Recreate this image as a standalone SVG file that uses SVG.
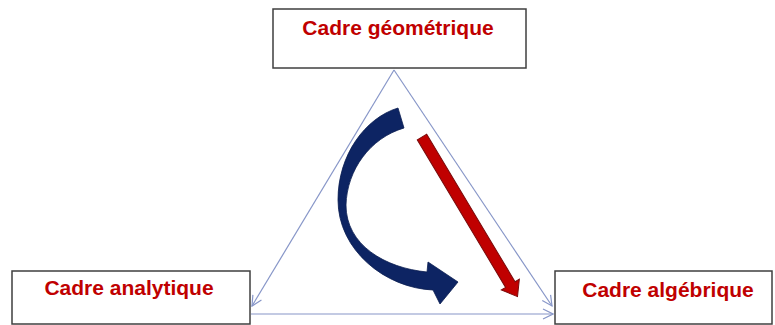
<svg xmlns="http://www.w3.org/2000/svg" width="775" height="325" viewBox="0 0 775 325">
<style>
.box{fill:#fff;stroke:#3f3f3f;stroke-width:1.5}
.lbl{font-family:"Liberation Sans",Arial,sans-serif;font-weight:bold;font-size:21px;fill:#c00000;text-anchor:middle}
.edge{fill:none;stroke:#8796c8;stroke-width:1.2}
</style>
<defs>
<marker id="open" viewBox="0 0 12 12" refX="11" refY="6" markerWidth="12" markerHeight="12" markerUnits="userSpaceOnUse" orient="auto">
<path d="M1,1 L11,6 L1,11" fill="none" stroke="#8796c8" stroke-width="1.2"/>
</marker>
</defs>
<rect width="775" height="325" fill="#fff"/>
<g id="connectors">
<line class="edge" x1="394" y1="70" x2="252" y2="306" marker-end="url(#open)"/>
<line class="edge" x1="394" y1="70" x2="552" y2="306" marker-end="url(#open)"/>
<line class="edge" x1="251" y1="314" x2="553" y2="314" marker-end="url(#open)"/>
<path id="blue-arrow" d="M398,108 L404,128 C370,138 347,170 346,205 C346,245 385,268 427,272 L428,262 L458,282 L440,304 L433,290 C385,288 338,250 338,200 C338,155 365,118 398,108 Z" fill="#0d2463" stroke="#0a1d50" stroke-width="0.8"/>
<g id="red-arrow" transform="translate(422,137) rotate(59.1)">
<path d="M0,-5.5 L172,-5.5 L172,-10.5 L186,0 L172,10.5 L172,5.5 L0,5.5 Z" fill="#c00000" stroke="#7a0a0a" stroke-width="1"/>
</g>
</g>
<g id="node-geometrique">
<rect class="box" x="273" y="9" width="253" height="59"/>
<text class="lbl" x="398" y="35">Cadre géométrique</text>
</g>
<g id="node-analytique">
<rect class="box" x="12" y="271" width="238" height="53"/>
<text class="lbl" x="129" y="295">Cadre analytique</text>
</g>
<g id="node-algebrique">
<rect class="box" x="555" y="271" width="217" height="53"/>
<text class="lbl" x="668" y="297">Cadre algébrique</text>
</g>
</svg>
